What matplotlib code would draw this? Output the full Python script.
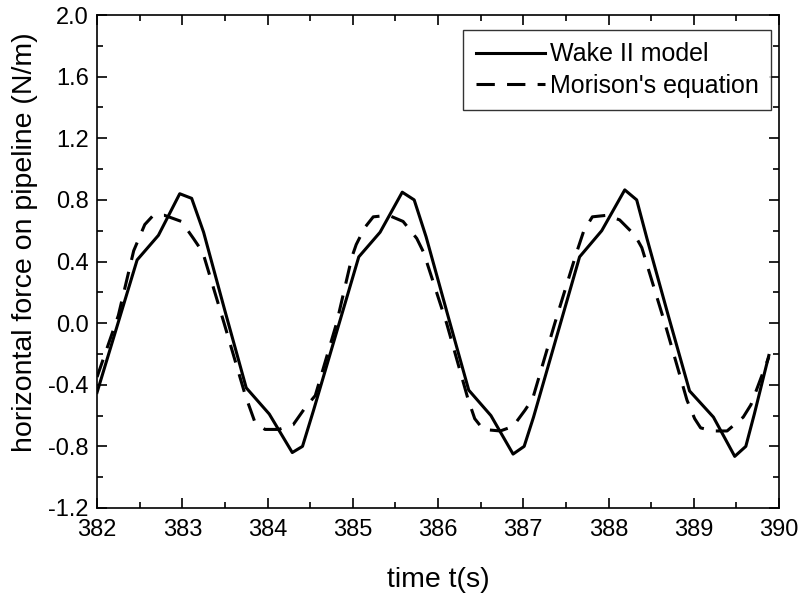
import matplotlib
matplotlib.use("Agg")
import matplotlib.pyplot as plt
from matplotlib.ticker import MultipleLocator

plt.rcParams['font.family'] = ['Liberation Sans', 'DejaVu Sans']

# Wake II model (solid)
t_wake = [382.00, 382.47, 382.72, 382.97, 383.11, 383.25, 383.50, 383.75, 384.02,
          384.29, 384.41, 384.54, 385.07, 385.32, 385.58, 385.72, 385.86, 386.11,
          386.36, 386.62, 386.88, 387.01, 387.12, 387.66, 387.92, 388.19, 388.33,
          388.45, 388.70, 388.95, 389.23, 389.48, 389.61, 389.71, 389.88]
f_wake = [-0.45, 0.41, 0.57, 0.84, 0.81, 0.59, 0.08, -0.42, -0.59,
          -0.84, -0.80, -0.565, 0.43, 0.59, 0.85, 0.80, 0.56, 0.06,
          -0.435, -0.60, -0.85, -0.80, -0.61, 0.43, 0.60, 0.865, 0.80,
          0.55, 0.05, -0.44, -0.61, -0.865, -0.80, -0.59, -0.21]

# Morison's equation (dashed)
t_mor = [382.00, 382.25, 382.43, 382.56, 382.66, 382.79, 382.99, 383.13, 383.24,
         383.49, 383.74, 383.85, 383.97, 384.13, 384.30, 384.44, 384.56, 384.81,
         384.99, 385.04, 385.14, 385.24, 385.42, 385.59, 385.75, 385.83, 386.10,
         386.35, 386.43, 386.53, 386.73, 386.88, 387.02, 387.11, 387.37, 387.62,
         387.71, 387.81, 387.98, 388.13, 388.31, 388.39, 388.66, 388.92, 389.01,
         389.08, 389.23, 389.39, 389.58, 389.67, 389.88]
f_mor = [-0.35, 0.05, 0.47, 0.64, 0.70, 0.70, 0.66, 0.55, 0.46,
         0.00, -0.47, -0.64, -0.69, -0.69, -0.66, -0.55, -0.47, 0.00,
         0.43, 0.51, 0.62, 0.69, 0.70, 0.66, 0.55, 0.46, 0.00,
         -0.49, -0.62, -0.69, -0.70, -0.67, -0.565, -0.49, 0.00, 0.45,
         0.60, 0.69, 0.70, 0.67, 0.57, 0.49, 0.00, -0.50, -0.62,
         -0.68, -0.70, -0.70, -0.61, -0.53, -0.22]

y_ticks = [-1.2, -0.8, -0.4, 0.0, 0.4, 0.8, 1.2, 1.6, 2.0]
y_ticklabels = ["-1.2", "-0.8", "-0.4", "0.0", "0.4", "0.8", "1.2", "1.6", "2.0"]

fig = plt.figure(figsize=(8.02, 5.94), dpi=100)
ax = fig.add_axes([0.121, 0.1448, 0.8504, 0.8299])

ax.plot(t_wake, f_wake, color='black', lw=2.2, label='Wake II model')
ax.plot(t_mor, f_mor, color='black', lw=2.2, dashes=(6, 4), label="Morison's equation")

ax.set_xlim(382, 390)
ax.set_ylim(-1.2, 2.0)
ax.xaxis.set_major_locator(MultipleLocator(1))
ax.xaxis.set_minor_locator(MultipleLocator(0.5))
ax.set_yticks(y_ticks)
ax.set_yticklabels(y_ticklabels)
ax.yaxis.set_minor_locator(MultipleLocator(0.2))

ax.tick_params(which='both', direction='in', top=True, right=True, width=1.2,
               labelsize=17)
ax.tick_params(which='major', length=7)
ax.tick_params(which='minor', length=4)
ax.tick_params(axis='x', pad=8)
ax.tick_params(axis='y', pad=6)
for s in ax.spines.values():
    s.set_linewidth(1.2)

ax.set_xlabel('time t(s)', fontsize=20.5, labelpad=19)
ax.set_ylabel('horizontal force on pipeline (N/m)', fontsize=20.5)
ax.yaxis.set_label_coords(-0.087, 0.54)

leg = ax.legend(loc='upper right', bbox_to_anchor=(0.988, 0.97), fontsize=18,
                frameon=True, fancybox=False, edgecolor='black', handlelength=2.75,
                borderpad=0.5, labelspacing=0.3, handletextpad=0.2,
                borderaxespad=0.0)
leg.get_frame().set_linewidth(1.0)

fig.savefig('out.png', dpi=100)
